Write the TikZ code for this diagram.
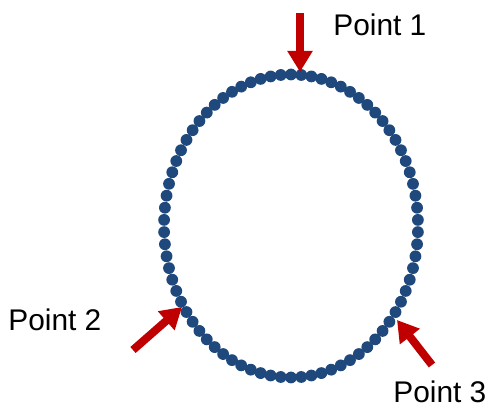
\documentclass[tikz,border=0pt]{standalone}
\usepackage{fontspec}
\setmainfont{Liberation Sans}
\usepackage{tikz}
\usetikzlibrary{arrows.meta}
\usepackage{xcolor}
\definecolor{dotblue}{RGB}{31,73,125}
\definecolor{arrowred}{RGB}{192,0,0}

\begin{document}
\begin{tikzpicture}[>={Triangle[width=0.48cm,length=0.42cm]},
  lbl/.style={anchor=west,inner sep=0pt,font=\fontsize{17}{20}\selectfont},
  pointer/.style={->,arrowred,line width=0.16cm}]
\useasboundingbox (0,0) rectangle (9.9,8.18);
\coordinate (c) at (5.82,3.66);
\foreach \i in {0,...,77}
  \fill[dotblue] (c) ++({90+\i/78*360}:2.54 and 3.03) circle (0.118);
\coordinate (p1) at (6.0,6.74);
\coordinate (p2) at (3.64,2.04);
\coordinate (p3) at (7.94,1.78);
\coordinate (t1) at (6.0,7.92);
\coordinate (t2) at (2.66,1.18);
\coordinate (t3) at (8.64,0.88);
\node[lbl] (l1) at (6.66,7.68) {Point 1};
\node[lbl] (l2) at (0.16,1.78) {Point 2};
\node[lbl] (l3) at (7.86,0.34) {Point 3};
\draw[pointer] (t1) -- (p1);
\draw[pointer] (t2) -- (p2);
\draw[pointer] (t3) -- (p3);
\end{tikzpicture}
\end{document}
